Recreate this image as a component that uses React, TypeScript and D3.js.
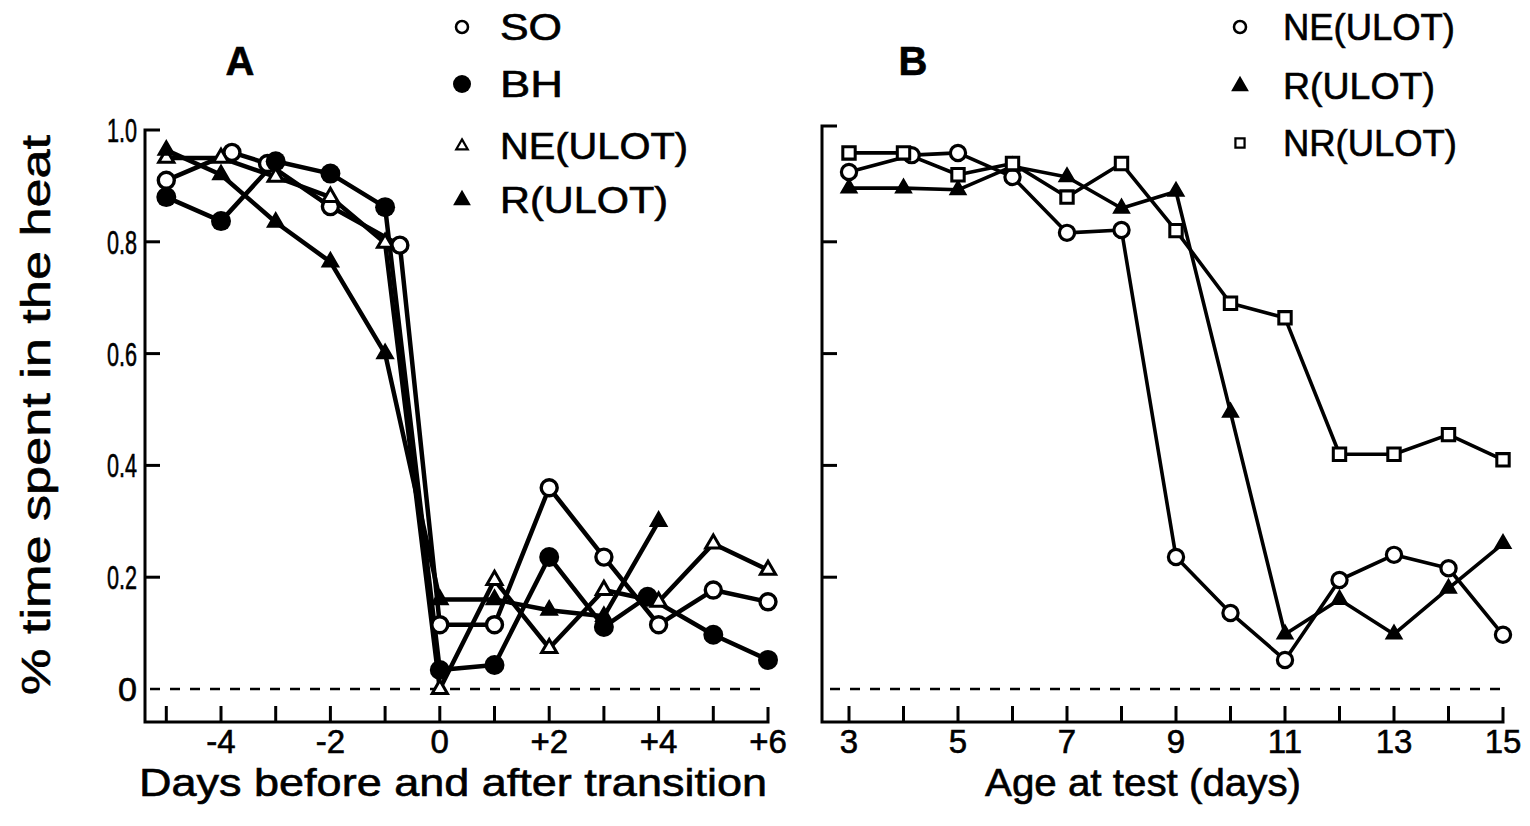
import React from "react";
import * as d3 from "d3";

// ---- Panel A: days relative to the transition ----
const soDays = [-5, -3.8, -3.15, -2, -0.73, 0, 1, 2, 3, 4, 5, 6];
const soValues = [0.91, 0.96, 0.94, 0.863, 0.794, 0.115, 0.115, 0.36, 0.236, 0.115, 0.177, 0.156];

const bhDays = [-5, -4, -3, -2, -1, 0, 1, 2, 3, 3.8, 5, 6];
const bhValues = [0.88, 0.837, 0.944, 0.922, 0.862, 0.034, 0.043, 0.236, 0.111, 0.165, 0.097, 0.052];

const neADays = [-5, -4, -3, -2, -1, 0, 1, 2, 3, 4, 5, 6];
const neAValues = [0.95, 0.95, 0.916, 0.88, 0.798, 0.0, 0.195, 0.073, 0.177, 0.156, 0.26, 0.213];

const rADays = [-5, -4, -3, -2, -1, 0, 1, 2, 3, 4];
const rAValues = [0.964, 0.92, 0.835, 0.764, 0.6, 0.16, 0.16, 0.141, 0.13, 0.3];

const dayTicksA = [-5, -4, -3, -2, -1, 0, 1, 2, 3, 4, 5, 6];
const dayLabelsA = [
  { d: -4, t: "-4" },
  { d: -2, t: "-2" },
  { d: 0, t: "0" },
  { d: 2, t: "+2" },
  { d: 4, t: "+4" },
  { d: 6, t: "+6" },
];

// ---- Panel B: age at test ----
const neBDays = [3, 4.15, 5, 6, 7, 8, 9, 10, 11, 12, 13, 14, 15];
const neBValues = [0.925, 0.955, 0.959, 0.916, 0.816, 0.821, 0.236, 0.136, 0.052, 0.195, 0.24, 0.216, 0.097];

const ageDays = [3, 4, 5, 6, 7, 8, 9, 10, 11, 12, 13, 14, 15];
const rBValues = [0.896, 0.896, 0.893, 0.935, 0.916, 0.86, 0.89, 0.495, 0.098, 0.16, 0.098, 0.18, 0.26];
const nrBValues = [0.959, 0.959, 0.92, 0.94, 0.88, 0.94, 0.82, 0.69, 0.664, 0.42, 0.42, 0.455, 0.41];

const ageLabelsB = [3, 5, 7, 9, 11, 13, 15];

const yTicks = [0.2, 0.4, 0.6, 0.8, 1.0];
const yLabels = [
  { v: 1.0, t: "1.0" },
  { v: 0.8, t: "0.8" },
  { v: 0.6, t: "0.6" },
  { v: 0.4, t: "0.4" },
  { v: 0.2, t: "0.2" },
  { v: 0, t: "0" },
];

const FONT = "'Liberation Sans', Arial, Helvetica, sans-serif";

type Pt = [number, number];
const zip = (xs: number[], ys: number[]): Pt[] => xs.map((x, i) => [x, ys[i]]);

type MarkerKind = "openCircle" | "filledCircle" | "openTriangle" | "filledTriangle" | "openSquare";

function Marker({ kind, x, y, s = 1 }: { kind: MarkerKind; x: number; y: number; s?: number }) {
  if (kind === "openCircle")
    return <circle cx={x} cy={y} r={8 * s} fill="#fff" stroke="#000" strokeWidth={3.4 * s} />;
  if (kind === "filledCircle") return <circle cx={x} cy={y} r={10 * s} fill="#000" />;
  if (kind === "openTriangle") {
    const p = d3.symbol(d3.symbolTriangle, 100 * s * s)();
    return <path d={p || ""} transform={`translate(${x},${y})`} fill="#fff" stroke="#000" strokeWidth={3 * s} />;
  }
  if (kind === "filledTriangle") {
    const p = d3.symbol(d3.symbolTriangle, 110 * s * s)();
    return <path d={p || ""} transform={`translate(${x},${y})`} fill="#000" stroke="#000" strokeWidth={2} />;
  }
  const p = d3.symbol(d3.symbolSquare, 170 * s * s)();
  return <path d={p || ""} transform={`translate(${x},${y})`} fill="#fff" stroke="#000" strokeWidth={3.2 * s} />;
}

export default function App() {
  const y = d3.scaleLinear().domain([0, 1]).range([689, 130]);
  const xA = d3.scaleLinear().domain([-5, 6]).range([166.3, 768]);
  const xB = d3.scaleLinear().domain([3, 15]).range([849, 1503]);

  const axisY = 722;
  const lineA = d3.line<Pt>().x((d) => xA(d[0])).y((d) => y(d[1]));
  const lineB = d3.line<Pt>().x((d) => xB(d[0])).y((d) => y(d[1]));

  const seriesA: { pts: Pt[]; kind: MarkerKind }[] = [
    { pts: zip(soDays, soValues), kind: "openCircle" },
    { pts: zip(bhDays, bhValues), kind: "filledCircle" },
    { pts: zip(neADays, neAValues), kind: "openTriangle" },
    { pts: zip(rADays, rAValues), kind: "filledTriangle" },
  ];
  const seriesB: { pts: Pt[]; kind: MarkerKind }[] = [
    { pts: zip(neBDays, neBValues), kind: "openCircle" },
    { pts: zip(ageDays, rBValues), kind: "filledTriangle" },
    { pts: zip(ageDays, nrBValues), kind: "openSquare" },
  ];

  const textStyle = { fontFamily: FONT, fill: "#000", stroke: "#000", strokeWidth: 0.6 } as const;

  const legendA = [
    { kind: "openCircle" as MarkerKind, t: "SO", cy: 27, w: 62, s: 0.75 },
    { kind: "filledCircle" as MarkerKind, t: "BH", cy: 84, w: 63, s: 0.9 },
    { kind: "openTriangle" as MarkerKind, t: "NE(ULOT)", cy: 146, w: 188, s: 0.75 },
    { kind: "filledTriangle" as MarkerKind, t: "R(ULOT)", cy: 200, w: 168, s: 0.9 },
  ];
  const legendB = [
    { kind: "openCircle" as MarkerKind, t: "NE(ULOT)", cy: 27, w: 172, s: 0.75 },
    { kind: "filledTriangle" as MarkerKind, t: "R(ULOT)", cy: 86, w: 152, s: 0.9 },
    { kind: "openSquare" as MarkerKind, t: "NR(ULOT)", cy: 143, w: 174, s: 0.7 },
  ];

  return (
    <svg
      width={1530}
      height={826}
      style={{ position: "absolute", left: 0, top: 0, display: "block", background: "#fff" }}
    >
      {/* Panel titles */}
      <text x={240} y={75} textAnchor="middle" fontSize={40} fontWeight="bold" {...textStyle}>
        A
      </text>
      <text x={913} y={75} textAnchor="middle" fontSize={40} fontWeight="bold" {...textStyle}>
        B
      </text>

      {/* Legends */}
      {legendA.map((l) => (
        <g key={"la" + l.t}>
          <Marker kind={l.kind} x={462} y={l.cy} s={l.s} />
          <text x={500} y={l.cy + 13} fontSize={36} textLength={l.w} lengthAdjust="spacingAndGlyphs" {...textStyle}>
            {l.t}
          </text>
        </g>
      ))}
      {legendB.map((l) => (
        <g key={"lb" + l.t}>
          <Marker kind={l.kind} x={1240} y={l.cy} s={l.s} />
          <text x={1283} y={l.cy + 13} fontSize={36} textLength={l.w} lengthAdjust="spacingAndGlyphs" {...textStyle}>
            {l.t}
          </text>
        </g>
      ))}

      {/* Panel A axes */}
      <g stroke="#000" strokeWidth={3} fill="none">
        <path d={`M160,${y(1)} H145 V${axisY} H${xA(6)} V${axisY - 15}`} />
        {yTicks.slice(0, 4).map((v) => (
          <line key={"ya" + v} x1={145} x2={160} y1={y(v)} y2={y(v)} />
        ))}
        {dayTicksA.slice(0, -1).map((d) => (
          <line key={"xa" + d} x1={xA(d)} x2={xA(d)} y1={axisY} y2={axisY - 16} />
        ))}
        <line x1={150} x2={xA(6)} y1={y(0)} y2={y(0)} strokeWidth={2.5} strokeDasharray="10 10" />
      </g>
      {yLabels.map((l) => (
        <text
          key={"yl" + l.t}
          x={137}
          y={y(l.v) + 12}
          textAnchor="end"
          fontSize={33}
          textLength={l.t === "0" ? 19 : 30}
          lengthAdjust="spacingAndGlyphs"
          {...textStyle}
        >
          {l.t}
        </text>
      ))}
      {dayLabelsA.map((l) => (
        <text key={"dl" + l.t} x={xA(l.d)} y={753} textAnchor="middle" fontSize={33} {...textStyle}>
          {l.t}
        </text>
      ))}

      {/* Panel B axes */}
      <g stroke="#000" strokeWidth={3} fill="none">
        <path d={`M837,${y(1) - 4} H822 V${axisY} H${xB(15)} V${axisY - 15}`} />
        {yTicks.slice(0, 4).map((v) => (
          <line key={"yb" + v} x1={822} x2={837} y1={y(v)} y2={y(v)} />
        ))}
        {ageDays.slice(0, -1).map((d) => (
          <line key={"xb" + d} x1={xB(d)} x2={xB(d)} y1={axisY} y2={axisY - 16} />
        ))}
        <line x1={830} x2={xB(15)} y1={y(0)} y2={y(0)} strokeWidth={2.5} strokeDasharray="10 10" />
      </g>
      {ageLabelsB.map((d) => (
        <text key={"al" + d} x={xB(d)} y={753} textAnchor="middle" fontSize={33} {...textStyle}>
          {d}
        </text>
      ))}

      {/* Axis titles */}
      <text
        x={453}
        y={796}
        textAnchor="middle"
        fontSize={38}
        textLength={628}
        lengthAdjust="spacingAndGlyphs"
        {...textStyle}
      >
        Days before and after transition
      </text>
      <text
        x={1143}
        y={796}
        textAnchor="middle"
        fontSize={38}
        textLength={316}
        lengthAdjust="spacingAndGlyphs"
        {...textStyle}
      >
        Age at test (days)
      </text>
      <text
        transform="translate(50,415) rotate(-90)"
        textAnchor="middle"
        fontSize={40}
        textLength={560}
        lengthAdjust="spacingAndGlyphs"
        {...textStyle}
      >
        % time spent in the heat
      </text>

      {/* Panel A data */}
      {seriesA.map((s, i) => (
        <path key={"pa" + i} d={lineA(s.pts) || ""} fill="none" stroke="#000" strokeWidth={4.5} strokeLinejoin="round" />
      ))}
      {seriesA.map((s, i) =>
        s.pts.map((p, j) => <Marker key={`ma${i}-${j}`} kind={s.kind} x={xA(p[0])} y={y(p[1])} />)
      )}

      {/* Panel B data */}
      {seriesB.map((s, i) => (
        <path key={"pb" + i} d={lineB(s.pts) || ""} fill="none" stroke="#000" strokeWidth={3.6} strokeLinejoin="round" />
      ))}
      {seriesB.map((s, i) =>
        s.pts.map((p, j) => <Marker key={`mb${i}-${j}`} kind={s.kind} x={xB(p[0])} y={y(p[1])} s={0.95} />)
      )}
    </svg>
  );
}
